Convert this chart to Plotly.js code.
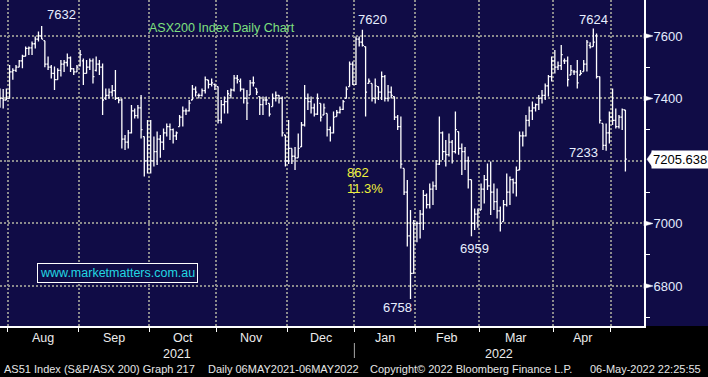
<!DOCTYPE html>
<html>
<head>
<meta charset="utf-8">
<script src="https://cdn.plot.ly/plotly-3.0.1.min.js"></script>
<style>html,body{margin:0;padding:0;background:#000;}#chart{width:708px;height:377px;}</style>
</head>
<body>
<div id="chart"></div>
<script>
// Trading-day OHLC of the S&P/ASX 200 (AS51), 28 Jul 2021 .. 06 May 2022
const opens = [7420,7400,7395,
7400,7485,7490,7500,7520,7535,7560,7562,7575,7590,7600,7585,7510,7500,7480,7460,7490,7510,7515,7530,7495,7485,
7505,7520,7480,7500,7520,7490,7510,7500,7400,7410,7420,7425,7400,7395,7270,7260,7290,7360,7345,7370,7278,7200,
7250,7200,7230,7270,7260,7290,7310,7300,7280,7310,7340,7360,7360,7395,7430,7410,7410,7425,7459,7445,7445,
7438,7330,7380,7390,7410,7427,7465,7455,7430,7400,7411,7450,7432,7406,7380,7395,7384,7374,7400,7410,7400,7283,
7200,7240,7215,7210,7245,7315,7400,7390,7370,7350,7384,7347,7352,7300,7290,7342,7355,7365,7400,7438,7510,
7445,7590,7580,7566,7448,7448,7400,7438,7420,7470,7400,7420,7406,7340,7310,7176,7100,6960,6840,
7000,7000,7030,7090,7060,7110,7120,7190,7290,7230,7220,7260,7230,7294,7240,7230,7200,7140,7000,
7030,7043,7110,7140,7120,7100,7070,7040,7006,7060,7100,7140,7130,7171,7280,7280,7330,7360,7370,7380,7400,7410,7440,7470,
7520,7500,7505,7520,7520,7475,7485,7485,7475,7486,7510,7570,7566,7600,7470,7320,7250,7290,
7340,7330,7310,7340,7363];
const highs = [7432,7430,7432,
7507,7497,7507,7523,7540,7566,7566,7582,7598,7614,7632,7585,7534,7507,7502,7497,7523,7523,7544,7534,7497,7507,
7555,7528,7523,7528,7528,7534,7523,7512,7432,7432,7443,7491,7405,7400,7283,7299,7379,7368,7379,7411,7278,7331,
7331,7278,7294,7283,7304,7320,7320,7304,7294,7347,7374,7368,7395,7443,7438,7416,7432,7470,7459,7464,7448,
7438,7395,7406,7427,7432,7475,7475,7464,7432,7427,7459,7470,7432,7406,7406,7406,7384,7416,7422,7411,7406,7283,
7331,7240,7245,7288,7325,7443,7416,7406,7384,7416,7384,7384,7352,7310,7358,7363,7374,7395,7438,7518,7518,
7598,7598,7620,7566,7464,7448,7464,7438,7486,7475,7443,7438,7406,7347,7342,7176,7139,7043,7011,
7006,7043,7107,7096,7128,7134,7203,7342,7294,7267,7288,7267,7358,7294,7256,7245,7214,7140,7048,
7048,7128,7155,7192,7198,7128,7112,7054,7075,7160,7150,7144,7182,7294,7294,7347,7374,7390,7384,7411,7427,7448,7475,7534,
7555,7518,7571,7528,7534,7507,7491,7523,7491,7523,7587,7580,7624,7608,7470,7320,7320,7358,
7432,7368,7347,7368,7363];
const lows = [7370,7368,7395,
7400,7460,7485,7500,7497,7535,7539,7539,7560,7582,7590,7500,7491,7464,7427,7460,7470,7485,7502,7485,7475,7485,
7502,7443,7480,7491,7448,7486,7475,7347,7395,7400,7406,7395,7385,7240,7235,7240,7288,7336,7336,7272,7150,7160,
7160,7182,7187,7210,7235,7278,7267,7256,7267,7310,7310,7347,7358,7395,7406,7400,7406,7416,7432,7438,7427,
7320,7320,7352,7352,7400,7422,7448,7422,7384,7331,7411,7438,7411,7347,7347,7379,7342,7374,7390,7384,7278,7182,
7190,7190,7171,7210,7245,7310,7363,7352,7342,7347,7326,7347,7278,7262,7288,7342,7352,7363,7400,7438,7443,
7443,7566,7566,7342,7448,7390,7384,7395,7395,7390,7390,7400,7331,7299,7176,7091,6926,6758,6840,
6940,6952,6979,7048,7048,7059,7107,7187,7203,7182,7214,7192,7224,7220,7155,7171,7112,6959,6979,
6986,7043,7064,7107,7027,7043,7016,6974,7006,7054,7059,7096,7086,7171,7246,7278,7310,7331,7358,7363,7384,7395,7406,7454,
7480,7491,7491,7510,7438,7475,7475,7432,7475,7486,7486,7560,7566,7464,7320,7235,7233,7256,
7315,7304,7304,7299,7166];
const closes = [7400,7395,7400,
7485,7490,7500,7520,7535,7560,7562,7575,7590,7600,7590,7510,7500,7480,7460,7490,7510,7515,7530,7495,7485,7500,
7540,7480,7500,7520,7470,7510,7500,7395,7410,7420,7425,7400,7395,7270,7260,7290,7360,7345,7370,7300,7200,7250,
7200,7230,7270,7260,7290,7310,7300,7280,7290,7340,7360,7360,7385,7430,7420,7410,7425,7460,7445,7450,7440,
7330,7380,7390,7415,7427,7465,7460,7430,7400,7385,7450,7450,7420,7380,7395,7395,7350,7400,7410,7400,7290,7200,
7240,7215,7210,7240,7315,7400,7390,7370,7350,7400,7340,7370,7300,7290,7340,7355,7365,7390,7430,7510,7445,
7590,7580,7570,7420,7455,7400,7440,7420,7470,7400,7420,7410,7340,7310,7190,7100,6960,6840,7000,
7000,7030,7090,7060,7110,7120,7190,7290,7230,7220,7260,7230,7300,7240,7230,7200,7140,7000,7030,
7040,7110,7140,7120,7100,7070,7040,7000,7060,7100,7140,7130,7170,7280,7280,7330,7360,7370,7380,7400,7410,7440,7470,7520,
7500,7505,7540,7520,7460,7490,7485,7450,7480,7510,7580,7565,7580,7470,7330,7250,7290,7340,
7330,7310,7340,7364,7205.638];
const firstDayIndex = -3;              // 28 Jul 2021 sits three trading days before 2 Aug 2021
const monthStarts = [0, 22, 44, 65, 87, 108, 127, 147, 170, 188];   // trading-day index of Aug..May
const monthNames = ['Aug','Sep','Oct','Nov','Dec','Jan','Feb','Mar','Apr'];
const yearLabels = ['2021','2022'];
const priceTicks = [6800, 7000, 7200, 7400, 7600];
const priceTickText = ['6800','7000','','7400','7600'];
const minorPriceTicks = [6700, 6900, 7100, 7300, 7500];
const lastPrice = 7205.638;
const calloutTexts = ['7632','7620','7624','7233','6959','6758'];
const chartTitle = 'ASX200 Index Daily Chart';
const moveText = ['862', '11.3%'];
const site = 'www.marketmatters.com.au';
const footer = ['AS51 Index (S&P/ASX 200) Graph 217', 'Daily 06MAY2021-06MAY2022',
                'Copyright\u00a9 2022 Bloomberg Finance L.P.', '06-May-2022 22:25:55'];

const W = 708, H = 377, ML = 0, MR = 64, MT = 0, MB = 51;
const PW = W - ML - MR, PH = H - MT - MB;
const NAVY = '#100c46';
const xs = opens.map((_, k) => k + firstDayIndex);
const bounds = monthStarts.map(v => v - 0.5);
const xRange = [-2.99, 197.8];
const yRange = [6671.8, 7715];
const px = v => v / PW;                 // pixel -> paper x
const py = v => (PH - v) / PH;          // pixel -> paper y
const pricePerPx = (yRange[1] - yRange[0]) / PH;

const trace = {
  type: 'ohlc', x: xs, open: opens, high: highs, low: lows, close: closes,
  increasing: {line: {color: '#ffffff', width: 1.3}},
  decreasing: {line: {color: '#ffffff', width: 1.3}},
  tickwidth: 0.45, hoverinfo: 'skip', showlegend: false
};

const shapes = [
  {type:'rect', xref:'paper', yref:'paper', x0:1, x1:W/PW, y0:0, y1:1, fillcolor:NAVY, line:{width:0}, layer:'below'},
  {type:'line', xref:'x', yref:'paper', x0:bounds[5], x1:bounds[5], y0:py(343), y1:py(358), line:{color:'#a8a8a8', width:1}}
];
priceTicks.forEach((v, k) => {
  if (!priceTickText[k]) return;
  const d = 2.6 * pricePerPx;
  shapes.push({type:'path', xref:'paper', yref:'y',
    path:`M 1,${v + d} L ${px(PW + 9)},${v} L 1,${v - d} Z`,
    fillcolor:'#ffffff', line:{color:'#ffffff', width:0.5}});
});
const dBox = 8.5 * pricePerPx;
shapes.push({type:'path', xref:'paper', yref:'y',
  path:`M ${px(PW + 3)},${lastPrice} L ${px(PW + 9)},${lastPrice + dBox} L ${px(PW + 9)},${lastPrice - dBox} Z`,
  fillcolor:'#ffffff', line:{color:'#ffffff', width:0.5}});

const F = 'Liberation Sans, Arial, sans-serif';
const annotations = [];
monthNames.forEach((m, k) => annotations.push({
  text: m, xref:'x', yref:'paper', x:(bounds[k] + bounds[k + 1]) / 2, y:py(338),
  showarrow:false, font:{family:F, size:12.5, color:'#ececec'}, xanchor:'center', yanchor:'middle'}));
annotations.push({text:yearLabels[0], xref:'paper', yref:'paper', x:px(177), y:py(354), showarrow:false,
  font:{family:F, size:12.5, color:'#ececec'}, xanchor:'center', yanchor:'middle'});
annotations.push({text:yearLabels[1], xref:'paper', yref:'paper', x:px(499), y:py(354), showarrow:false,
  font:{family:F, size:12.5, color:'#ececec'}, xanchor:'center', yanchor:'middle'});
const footX = [2, 206, 368, 588];
footer.forEach((t, k) => annotations.push({text:t, xref:'paper', yref:'paper', x:px(footX[k]), y:py(369),
  showarrow:false, font:{family:F, size:11, color:'#e6e6e6'}, xanchor:'left', yanchor:'middle'}));
// label centres in pixels (text placement only)
const calloutPos = [[61,15],[372,19],[593,20],[583,153],[474,248],[397,307]];
calloutTexts.forEach((t, k) => annotations.push({text:t, xref:'paper', yref:'paper',
  x:px(calloutPos[k][0]), y:py(calloutPos[k][1]), showarrow:false,
  font:{family:F, size:13, color:'#e8efff'}, xanchor:'center', yanchor:'middle'}));
annotations.push({text:chartTitle, xref:'paper', yref:'paper', x:px(147), y:py(28), showarrow:false,
  font:{family:F, size:12.5, color:'#7fe07f'}, xanchor:'left', yanchor:'middle'});
annotations.push({text:moveText[0], xref:'paper', yref:'paper', x:px(345), y:py(172), showarrow:false,
  font:{family:F, size:13, color:'#f2f23a'}, xanchor:'left', yanchor:'middle'});
annotations.push({text:moveText[1], xref:'paper', yref:'paper', x:px(345), y:py(188), showarrow:false,
  font:{family:F, size:13, color:'#f2f23a'}, xanchor:'left', yanchor:'middle'});
annotations.push({text:site, xref:'paper', yref:'paper', x:px(117), y:py(272.5), showarrow:false,
  font:{family:F, size:12.5, color:'#22d8e2'}, xanchor:'center', yanchor:'middle',
  bordercolor:'#ffffff', borderwidth:1, borderpad:2, bgcolor:NAVY});
annotations.push({text:String(lastPrice), xref:'paper', yref:'y', x:px(PW + 7), y:lastPrice, showarrow:false,
  font:{family:F, size:13, color:'#000000'}, xanchor:'left', yanchor:'middle',
  bgcolor:'#ffffff', borderpad:1});

const layout = {
  width: W, height: H, margin: {l:ML, r:MR, t:MT, b:MB, pad:0},
  paper_bgcolor: '#000000', plot_bgcolor: NAVY,
  showlegend: false, dragmode: false,
  xaxis: {range: xRange, tickmode:'array', tickvals: bounds, ticktext: bounds.map(() => ''),
    showgrid: true, gridcolor:'#8c8c8c', gridwidth:2, griddash:'2px,2px',
    ticks:'outside', ticklen:4, tickcolor:'#ffffff', tickwidth:1,
    showline:true, linecolor:'#ffffff', linewidth:2, zeroline:false,
    rangeslider:{visible:false}, fixedrange:true},
  yaxis: {range: yRange, side:'right', tickmode:'array', tickvals: priceTicks, ticktext: priceTickText,
    showgrid:true, gridcolor:'#8c8c8c', gridwidth:2, griddash:'2px,2px',
    ticks:'', ticklabelstandoff:5, tickfont:{family:F, size:13, color:'#e4ecff'},
    showline:true, linecolor:'#ffffff', linewidth:2, zeroline:false, fixedrange:true,
    minor:{tickmode:'array', tickvals: minorPriceTicks, ticks:'outside', ticklen:4, tickcolor:'#ffffff', tickwidth:1, showgrid:false}},
  shapes: shapes, annotations: annotations
};
Plotly.newPlot('chart', [trace], layout, {staticPlot:true, displayModeBar:false});
</script>
</body>
</html>
